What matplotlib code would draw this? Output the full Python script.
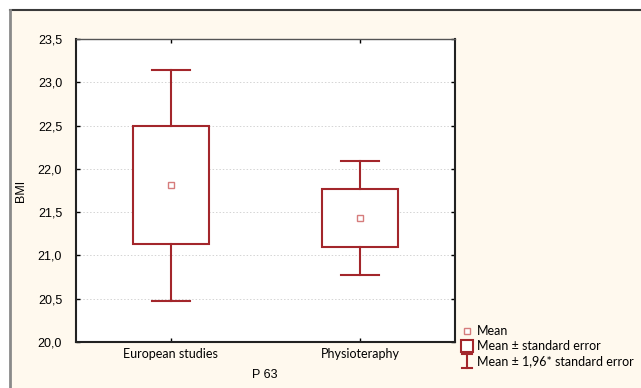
import matplotlib
matplotlib.use("Agg")
import matplotlib.pyplot as plt
from matplotlib.lines import Line2D
from matplotlib.patches import Rectangle

# Data
categories = ["European studies", "Physioteraphy"]
means = [21.81, 21.43]
se = [0.68, 0.335]
ci_mult = 1.96
yticks = [20.0, 20.5, 21.0, 21.5, 22.0, 22.5, 23.0, 23.5]
ytick_labels = ["20,0", "20,5", "21,0", "21,5", "22,0", "22,5", "23,0", "23,5"]
legend_labels = ["Mean", "Mean ± standard error", "Mean ± 1,96* standard error"]

RED = "#A3262B"
MEAN_C = "#D67C7C"
CREAM = "#FFF9EE"
W, H = 641, 388

fig = plt.figure(figsize=(W / 100, H / 100), dpi=100, facecolor="white")
# cream background panel with border on top/left
bg = Rectangle((10 / W, 0), 1 - 10 / W, 1 - 10 / H, transform=fig.transFigure,
               facecolor=CREAM, edgecolor="none", zorder=-10)
fig.add_artist(bg)
fig.add_artist(Line2D([10 / W, 1], [1 - 10 / H, 1 - 10 / H], transform=fig.transFigure,
                      color="#3a3a3a", lw=1.5))
fig.add_artist(Line2D([9.5 / W, 9.5 / W], [0, 1 - 10 / H], transform=fig.transFigure,
                      color="#8a8a8a", lw=2))

ax = fig.add_axes([76 / W, 1 - 342 / H, (455 - 76) / W, (342 - 39) / H])
ax.set_facecolor("white")
ax.set_xlim(0.5, 2.5)
ax.set_ylim(20.0, 23.5)

positions = [1, 2]
bw = 0.4
cw = 0.2
for x, m, s in zip(positions, means, se):
    lo_w, hi_w = m - ci_mult * s, m + ci_mult * s
    lo_b, hi_b = m - s, m + s
    ax.add_patch(Rectangle((x - bw / 2, lo_b), bw, hi_b - lo_b, facecolor="white",
                           edgecolor=RED, lw=1.5, zorder=3))
    ax.plot([x, x], [hi_b, hi_w], color=RED, lw=1.5, zorder=3)
    ax.plot([x, x], [lo_w, lo_b], color=RED, lw=1.5, zorder=3)
    ax.plot([x - cw / 2, x + cw / 2], [hi_w, hi_w], color=RED, lw=1.5, zorder=3)
    ax.plot([x - cw / 2, x + cw / 2], [lo_w, lo_w], color=RED, lw=1.5, zorder=3)
    ax.plot([x], [m], marker="s", ms=4, mfc="white", mec=MEAN_C, mew=1, zorder=4)

ax.set_yticks(yticks)
ax.set_yticklabels(ytick_labels, fontfamily="Liberation Sans", fontsize=9)
ax.set_xticks(positions)
ax.set_xticklabels(categories, fontfamily="Lato", fontsize=9)
ax.tick_params(axis="both", direction="in", length=3, width=1, top=True, right=True,
               colors="black", labelcolor="black")
ax.tick_params(axis="x", pad=4)
ax.tick_params(axis="y", pad=10)
ax.grid(axis="y", color="#d4d4d4", ls=(0, (1.5, 2)), lw=0.7)
ax.set_axisbelow(True)
for side in ["left", "right", "bottom"]:
    ax.spines[side].set_linewidth(1.5)
    ax.spines[side].set_color("#222222")
ax.spines["top"].set_linewidth(1.0)
ax.spines["top"].set_color("#555555")

ax.set_ylabel("BMI", fontfamily="Liberation Sans", fontsize=9, labelpad=8)
fig.text(265 / W, 1 - 375 / H, "P 63", fontfamily="Liberation Sans", fontsize=9,
         ha="center", va="center")

# Legend (manual)
lx = 467 / W
tx = 477 / W
ys = [331, 346, 361]
tr = fig.transFigure
fig.add_artist(Line2D([lx], [1 - ys[0] / H], transform=tr, marker="s", ms=4,
                      mfc="white", mec=MEAN_C, mew=1, ls="none"))
fig.add_artist(Line2D([lx], [1 - ys[1] / H], transform=tr, marker="s", ms=9,
                      mfc="white", mec=RED, mew=1.5, ls="none"))
yt, yb = 1 - (ys[2] - 7) / H, 1 - (ys[2] + 7) / H
fig.add_artist(Line2D([lx, lx], [yb, yt], transform=tr, color=RED, lw=1.5))
fig.add_artist(Line2D([lx - 5 / W, lx + 5 / W], [yt, yt], transform=tr, color=RED, lw=1.5))
fig.add_artist(Line2D([lx - 5 / W, lx + 5 / W], [yb, yb], transform=tr, color=RED, lw=1.5))
for y, lab in zip(ys, legend_labels):
    fig.text(tx, 1 - y / H, lab, fontfamily="Lato", fontsize=9,
             ha="left", va="center")

fig.savefig("out.png", dpi=100, facecolor=fig.get_facecolor())
